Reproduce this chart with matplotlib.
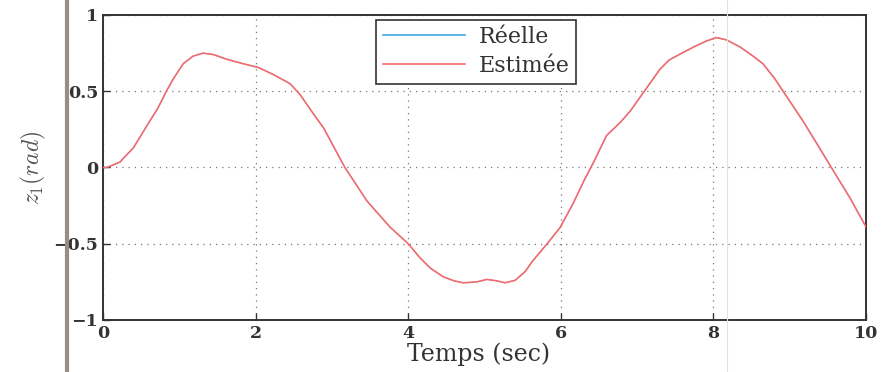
import numpy as np
import matplotlib
matplotlib.use("Agg")
import matplotlib.pyplot as plt
from matplotlib.lines import Line2D

# ---------------------------------------------------------------- data
t = [0.0, 0.05, 0.22, 0.40, 0.57, 0.72, 0.83, 0.92, 1.05, 1.18, 1.31, 1.45,
     1.62, 1.84, 2.04, 2.23, 2.45, 2.58, 2.76, 2.89, 3.17, 3.46, 3.76, 4.0,
     4.15, 4.29, 4.46, 4.6, 4.72, 4.90, 5.03, 5.16, 5.27, 5.40, 5.53, 5.62,
     5.72, 5.82, 5.99, 6.16, 6.3, 6.43, 6.60, 6.78, 6.91, 7.08, 7.30, 7.42,
     7.56, 7.74, 7.91, 8.04, 8.17, 8.35, 8.52, 8.65, 8.80, 8.94, 9.18, 9.40,
     9.57, 9.79, 10.0]
z_est = [0.0, 0.0, 0.035, 0.13, 0.27, 0.39, 0.50, 0.58, 0.68, 0.73, 0.75,
         0.74, 0.71, 0.68, 0.655, 0.61, 0.55, 0.48, 0.35, 0.26, 0.0, -0.22,
         -0.39, -0.50, -0.59, -0.66, -0.717, -0.743, -0.756, -0.75, -0.734,
         -0.743, -0.756, -0.74, -0.684, -0.62, -0.56, -0.50, -0.394, -0.237,
         -0.09, 0.035, 0.21, 0.296, 0.37, 0.49, 0.645, 0.705, 0.743, 0.79,
         0.83, 0.852, 0.837, 0.79, 0.73, 0.68, 0.585, 0.48, 0.30, 0.12,
         -0.02, -0.20, -0.39]
z_real = z_est  # real and estimated curves overlap in the figure

XTICKS = [0, 2, 4, 6, 8, 10]
YTICKS = [-1, -0.5, 0, 0.5, 1]
YTICKLABELS = ["\u22121", "\u22120.5", "0", "0.5", "1"]

plt.rcParams["font.family"] = ["DejaVu Serif"]
plt.rcParams["mathtext.fontset"] = "cm"

fig = plt.figure(figsize=(8.82, 3.72), dpi=100)
ax = fig.add_axes([0.1168, 0.1398, 0.8651, 0.8199])

ax.plot(t, z_real, color="#3fa9e0", lw=0.6, label="Réelle", zorder=2)
ax.plot(t, z_est, color="#f26b6e", lw=1.2, label="Estimée", zorder=3,
        solid_joinstyle="round")

ax.set_xlim(0, 10)
ax.set_ylim(-1, 1)
ax.set_xticks(XTICKS)
ax.set_yticks(YTICKS)
ax.set_yticklabels(YTICKLABELS)
ax.tick_params(direction="in", length=5, width=1, labelsize=12.5, colors="#333333")
for lab in ax.get_xticklabels() + ax.get_yticklabels():
    lab.set_fontweight("bold")
ax.grid(True, linestyle=(0, (1, 4)), color="#777777", lw=0.9)
for s in ax.spines.values():
    s.set_linewidth(1.4)
    s.set_color("#333333")

ax.set_xlabel("Temps (sec)", fontsize=17, color="#333333")
ax.xaxis.set_label_coords(0.492, -0.075)
ax.set_ylabel(r"$z_1(rad)$", fontsize=17, color="#555555", labelpad=4)

leg = ax.legend(loc="upper center", bbox_to_anchor=(0.489, 0.985), fontsize=16,
                fancybox=False, framealpha=1, edgecolor="#333333",
                handlelength=3.7, handletextpad=0.6, borderpad=0.3,
                labelspacing=0.3, borderaxespad=0)
leg.get_frame().set_linewidth(1.2)
for line in leg.get_lines():
    line.set_linewidth(1.2)
for txt in leg.get_texts():
    txt.set_color("#333333")

# binding shadow of the scanned page
fig.add_artist(Line2D([0.076, 0.076], [0, 1], transform=fig.transFigure,
                      color="#9a8a88", lw=3))
fig.add_artist(Line2D([0.824, 0.824], [0, 1], transform=fig.transFigure,
                      color="#e6e0e0", lw=0.8))

fig.savefig("out.png", dpi=100)
